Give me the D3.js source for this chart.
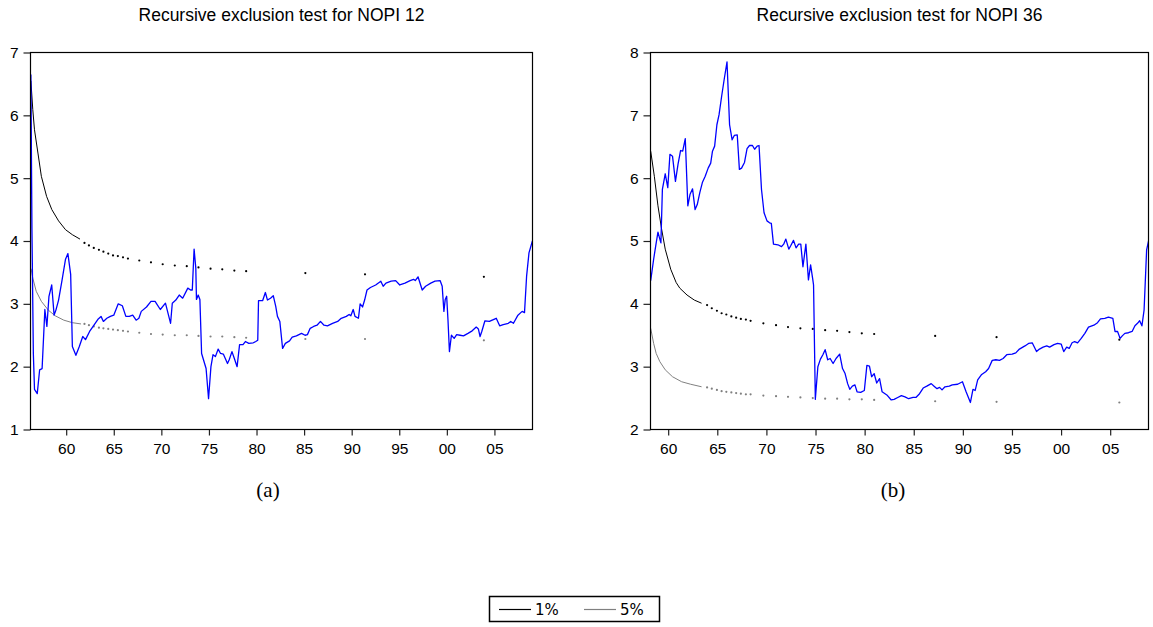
<!DOCTYPE html>
<html>
<head>
<meta charset="utf-8">
<script src="https://cdn.jsdelivr.net/npm/d3@7"></script>
<style>
  body { margin: 0; background: #fff; }
  svg { display: block; }
</style>
</head>
<body>
<svg id="fig" width="1153" height="627"></svg>
<script>
// ---- tick labels shared by both panels
const yearTicks = [1960, 1965, 1970, 1975, 1980, 1985, 1990, 1995, 2000, 2005];
const yearLabel = d => String(d % 100).padStart(2, "0");

// ---- NOPI 12: recursive exclusion statistic [year, value]
const nopi12 = [
  [1956.29,6.65],[1956.40,4.2],[1956.55,2.2],[1956.67,1.64],[1956.96,1.57],[1957.21,1.95],[1957.47,1.97],
  [1957.76,2.91],[1957.97,2.64],[1958.19,3.12],[1958.48,3.30],[1958.73,2.82],[1958.92,2.90],[1959.20,3.06],
  [1959.57,3.38],[1959.93,3.71],[1960.18,3.80],[1960.47,3.47],[1960.65,2.32],[1961.02,2.18],[1961.38,2.32],
  [1961.74,2.48],[1962.03,2.43],[1962.46,2.56],[1962.83,2.64],[1963.37,2.76],[1963.66,2.80],[1963.91,2.72],
  [1964.27,2.77],[1964.64,2.80],[1965.00,2.82],[1965.47,3.00],[1965.90,2.97],[1966.27,2.80],[1966.63,2.80],
  [1966.99,2.82],[1967.35,2.74],[1967.64,2.77],[1967.89,2.88],[1968.44,2.95],[1968.91,3.04],[1969.34,3.04],
  [1969.89,2.91],[1970.43,3.01],[1970.97,2.69],[1971.15,3.01],[1971.52,3.06],[1971.88,3.14],[1972.24,3.09],
  [1972.78,3.25],[1973.07,3.22],[1973.25,3.22],[1973.44,3.87],[1973.62,3.57],[1973.69,3.07],[1973.87,3.14],
  [1974.05,3.07],[1974.23,2.21],[1974.70,1.97],[1974.96,1.49],[1975.21,2.00],[1975.43,2.19],[1975.68,2.16],
  [1975.97,2.28],[1976.22,2.21],[1976.51,2.20],[1976.95,2.05],[1977.13,2.11],[1977.42,2.24],[1977.67,2.13],
  [1977.96,2.00],[1978.22,2.35],[1978.58,2.35],[1978.83,2.40],[1979.19,2.37],[1979.66,2.38],[1979.92,2.40],
  [1980.13,2.42],[1980.21,3.05],[1980.64,3.05],[1980.93,3.18],[1981.15,3.06],[1981.47,3.09],[1981.76,3.13],
  [1982.02,2.96],[1982.20,2.80],[1982.45,2.72],[1982.74,2.29],[1983.03,2.37],[1983.47,2.41],[1983.75,2.47],
  [1984.19,2.49],[1984.73,2.53],[1985.10,2.50],[1985.35,2.51],[1985.64,2.61],[1986.00,2.64],[1986.36,2.66],
  [1986.72,2.72],[1987.09,2.66],[1987.45,2.65],[1987.99,2.69],[1988.53,2.72],[1988.90,2.77],[1989.44,2.80],
  [1989.73,2.83],[1989.91,2.81],[1990.16,2.91],[1990.35,2.80],[1990.71,2.77],[1990.89,3.00],[1991.14,2.95],
  [1991.36,3.06],[1991.61,3.22],[1991.97,3.26],[1992.52,3.30],[1993.06,3.36],[1993.31,3.28],[1993.60,3.33],
  [1994.15,3.36],[1994.62,3.37],[1995.05,3.30],[1995.60,3.33],[1996.14,3.37],[1996.50,3.39],[1996.68,3.37],
  [1996.97,3.43],[1997.41,3.22],[1997.77,3.28],[1998.31,3.33],[1998.75,3.36],[1999.29,3.37],[1999.51,3.28],
  [1999.69,2.88],[1999.83,3.07],[1999.98,3.12],[2000.12,2.74],[2000.27,2.24],[2000.48,2.50],[2000.77,2.45],
  [2001.03,2.51],[2001.39,2.50],[2001.75,2.49],[2002.22,2.53],[2002.66,2.57],[2003.09,2.63],[2003.31,2.60],
  [2003.49,2.48],[2003.67,2.56],[2004.00,2.73],[2004.47,2.72],[2005.19,2.77],[2005.55,2.65],[2005.92,2.67],
  [2006.46,2.69],[2006.71,2.72],[2007.00,2.69],[2007.47,2.82],[2007.91,2.88],[2008.16,2.86],[2008.38,3.44],
  [2008.63,3.81],[2008.99,4.00]
];
// critical values: continuous part, then isolated points
const crit1Line12 = [[1956.29,6.55],[1956.49,6.09],[1956.67,5.77],[1957.03,5.40],[1957.39,5.03],[1957.94,4.71],
  [1958.49,4.50],[1959.20,4.32],[1959.93,4.18],[1960.65,4.10],[1961.45,4.03]];
const crit5Line12 = [[1956.31,3.56],[1956.49,3.41],[1956.85,3.20],[1957.39,3.04],[1958.12,2.90],[1958.84,2.81],
  [1959.75,2.74],[1960.65,2.70],[1961.56,2.68]];
const dotYears12 = [1961.92,1962.39,1962.90,1963.44,1963.91,1964.42,1964.92,1965.43,1965.97,1966.49,1967.68,
  1968.91,1970.14,1971.41,1972.67,1973.90,1975.17,1976.40,1977.67,1978.91,1985.13,1991.40,2003.89];
const crit1Dots12 = [3.97,3.93,3.89,3.86,3.83,3.80,3.77,3.76,3.74,3.72,3.69,3.66,3.63,3.61,3.60,3.58,3.56,3.55,
  3.53,3.52,3.49,3.47,3.43];
const crit5Dots12 = [2.68,2.66,2.64,2.62,2.61,2.60,2.59,2.58,2.57,2.56,2.54,2.52,2.51,2.50,2.50,2.49,2.48,2.48,
  2.47,2.46,2.44,2.44,2.42];

// ---- NOPI 36
const nopi36 = [
  [1958.22,4.37],[1958.52,4.71],[1958.78,4.97],[1958.96,5.14],[1959.15,5.03],[1959.26,4.97],[1959.41,5.82],
  [1959.70,6.07],[1959.96,5.85],[1960.18,6.38],[1960.44,6.35],[1960.74,5.95],[1961.00,6.22],[1961.26,6.44],
  [1961.48,6.43],[1961.74,6.63],[1962.00,5.56],[1962.22,5.74],[1962.48,5.83],[1962.74,5.50],[1962.96,5.58],
  [1963.22,5.77],[1963.48,5.93],[1963.77,6.03],[1964.07,6.16],[1964.33,6.24],[1964.51,6.43],[1964.73,6.51],
  [1964.96,6.85],[1965.18,7.01],[1965.44,7.30],[1965.70,7.57],[1965.99,7.85],[1966.25,6.85],[1966.51,6.61],
  [1966.73,6.68],[1967.03,6.69],[1967.25,6.14],[1967.47,6.16],[1967.77,6.25],[1968.03,6.47],[1968.28,6.52],
  [1968.58,6.52],[1968.80,6.46],[1969.06,6.51],[1969.25,6.52],[1969.50,5.82],[1969.76,5.45],[1970.06,5.32],
  [1970.32,5.29],[1970.50,5.28],[1970.72,4.95],[1971.17,4.94],[1971.54,4.91],[1971.76,4.95],[1971.98,5.03],
  [1972.28,4.87],[1972.46,4.92],[1972.76,5.01],[1973.02,4.89],[1973.28,4.95],[1973.50,4.95],[1973.72,4.59],
  [1974.02,4.95],[1974.28,4.38],[1974.50,4.62],[1974.72,4.39],[1974.80,4.30],[1974.98,2.48],[1975.24,3.00],
  [1975.50,3.12],[1975.75,3.19],[1975.98,3.27],[1976.24,3.11],[1976.49,3.13],[1976.79,3.05],[1977.09,3.13],
  [1977.46,3.20],[1977.75,2.97],[1978.01,2.89],[1978.27,2.73],[1978.49,2.64],[1978.75,2.69],[1979.01,2.71],
  [1979.23,2.60],[1979.60,2.59],[1979.97,2.62],[1980.23,3.02],[1980.49,3.01],[1980.71,2.84],[1980.97,2.89],
  [1981.23,2.74],[1981.52,2.81],[1981.78,2.60],[1982.26,2.55],[1982.71,2.47],[1983.00,2.48],[1983.37,2.51],
  [1983.74,2.54],[1984.11,2.52],[1984.48,2.49],[1984.93,2.51],[1985.22,2.51],[1985.59,2.57],[1985.96,2.66],
  [1986.33,2.69],[1986.78,2.73],[1987.07,2.69],[1987.37,2.65],[1987.63,2.67],[1987.88,2.63],[1988.18,2.68],
  [1988.62,2.69],[1988.92,2.71],[1989.47,2.72],[1989.96,2.76],[1990.33,2.60],[1990.77,2.43],[1991.03,2.64],
  [1991.25,2.62],[1991.51,2.79],[1991.88,2.87],[1992.32,2.92],[1992.62,2.97],[1992.99,3.10],[1993.36,3.11],
  [1993.73,3.10],[1994.10,3.13],[1994.47,3.19],[1995.02,3.20],[1995.39,3.22],[1995.76,3.28],[1996.32,3.33],
  [1996.69,3.37],[1997.06,3.38],[1997.50,3.24],[1997.80,3.28],[1998.17,3.31],[1998.54,3.33],[1998.83,3.31],
  [1999.28,3.35],[1999.65,3.37],[2000.01,3.36],[2000.27,3.24],[2000.57,3.31],[2000.83,3.29],[2001.12,3.38],
  [2001.38,3.40],[2001.68,3.38],[2002.05,3.45],[2002.42,3.53],[2002.79,3.63],[2003.34,3.66],[2003.71,3.70],
  [2004.01,3.76],[2004.45,3.77],[2004.82,3.79],[2005.27,3.77],[2005.49,3.56],[2005.75,3.56],[2006.01,3.45],
  [2006.23,3.49],[2006.49,3.53],[2006.86,3.54],[2007.23,3.56],[2007.52,3.65],[2007.78,3.69],[2008.00,3.73],
  [2008.23,3.65],[2008.45,3.90],[2008.71,4.86],[2009.00,5.07]
];
const crit1Line36 = [[1958.22,6.43],[1958.59,6.03],[1958.96,5.56],[1959.33,5.19],[1959.70,4.87],[1960.26,4.55],
  [1960.81,4.34],[1961.18,4.25],[1961.92,4.14],[1962.66,4.06],[1963.40,4.01]];
const crit5Line36 = [[1958.22,3.61],[1958.52,3.37],[1958.78,3.21],[1959.15,3.08],[1959.70,2.95],[1960.44,2.84],
  [1961.37,2.76],[1962.29,2.72],[1963.40,2.68]];
const dotYears36 = [1963.96,1964.44,1964.96,1965.44,1965.92,1966.43,1966.92,1967.40,1967.91,1968.39,1969.69,
  1970.98,1972.20,1973.46,1974.72,1975.98,1977.20,1978.45,1979.71,1980.97,1987.18,1993.43,2005.93];
const crit1Dots36 = [3.98,3.93,3.89,3.85,3.83,3.80,3.78,3.76,3.75,3.73,3.69,3.66,3.63,3.61,3.60,3.58,3.57,3.55,
  3.53,3.52,3.49,3.47,3.43];
const crit5Dots36 = [2.67,2.65,2.63,2.61,2.60,2.59,2.58,2.57,2.56,2.56,2.54,2.53,2.52,2.51,2.50,2.49,2.49,2.48,
  2.48,2.47,2.45,2.44,2.43];

const legendKeys = ["1%", "5%"];

const BLUE = "#0000ff", BLACK = "#000", GREY = "#808080";
const FONT = "Arial, 'Liberation Sans', sans-serif";

const svg = d3.select("#fig");

const panels = [
  { id: "p12", title: "Recursive exclusion test for NOPI 12", tag: "(a)", tagX: 268,
    left: 30.5, right: 532.5, xDomain: [1956.25, 2009.0], yDomain: [1, 7],
    stat: nopi12, c1: crit1Line12, c5: crit5Line12, dotYears: dotYears12, d1: crit1Dots12, d5: crit5Dots12 },
  { id: "p36", title: "Recursive exclusion test for NOPI 36", tag: "(b)", tagX: 893,
    left: 650.5, right: 1148.5, xDomain: [1958.2, 2008.9], yDomain: [2, 8],
    stat: nopi36, c1: crit1Line36, c5: crit5Line36, dotYears: dotYears36, d1: crit1Dots36, d5: crit5Dots36 }
];

const plotTop = 52.5, plotBottom = 429.5;

panels.forEach(p => {
  const x = d3.scaleLinear().domain(p.xDomain).range([p.left, p.right]);
  const y = d3.scaleLinear().domain(p.yDomain).range([plotBottom, plotTop]);
  const g = svg.append("g").attr("class", p.id);

  g.append("clipPath").attr("id", `clip-${p.id}`)
    .append("rect")
    .attr("x", p.left).attr("y", plotTop)
    .attr("width", p.right - p.left).attr("height", plotBottom - plotTop);

  // title
  g.append("text")
    .attr("x", (p.left + p.right) / 2).attr("y", 20.5)
    .attr("text-anchor", "middle")
    .style("font-family", FONT).style("font-size", "17.5px")
    .text(p.title);

  // axes
  const gx = g.append("g")
    .attr("transform", `translate(0,${plotBottom})`)
    .call(d3.axisBottom(x).tickValues(yearTicks).tickSize(6).tickPadding(7).tickFormat(yearLabel));
  gx.select(".domain").remove();

  const gy = g.append("g")
    .attr("transform", `translate(${p.left},0)`)
    .call(d3.axisLeft(y).ticks(6).tickSize(7).tickPadding(5).tickFormat(d3.format("d")));
  gy.select(".domain").remove();

  [gx, gy].forEach(a => {
    a.attr("font-family", FONT).attr("font-size", 15.5);
    a.selectAll("line").attr("stroke", "#222").attr("stroke-width", 1.2);
    a.selectAll("text").attr("fill", "#000");
  });

  const plot = g.append("g").attr("clip-path", `url(#clip-${p.id})`);
  const line = d3.line().x(d => x(d[0])).y(d => y(d[1]));

  plot.append("path").datum(p.c5)
    .attr("fill", "none").attr("stroke", GREY).attr("stroke-width", 1).attr("d", line);
  plot.append("path").datum(p.c1)
    .attr("fill", "none").attr("stroke", BLACK).attr("stroke-width", 1).attr("d", line);

  plot.selectAll("circle.d5").data(p.dotYears.map((t, i) => [t, p.d5[i]]))
    .join("circle").attr("class", "d5")
    .attr("cx", d => x(d[0])).attr("cy", d => y(d[1])).attr("r", 1.1).attr("fill", GREY);
  plot.selectAll("circle.d1").data(p.dotYears.map((t, i) => [t, p.d1[i]]))
    .join("circle").attr("class", "d1")
    .attr("cx", d => x(d[0])).attr("cy", d => y(d[1])).attr("r", 1.1).attr("fill", BLACK);

  plot.append("path").datum(p.stat)
    .attr("fill", "none").attr("stroke", BLUE).attr("stroke-width", 1.3)
    .attr("stroke-linejoin", "round").attr("d", line);

  // frame
  g.append("rect")
    .attr("x", p.left).attr("y", plotTop)
    .attr("width", p.right - p.left).attr("height", plotBottom - plotTop)
    .attr("fill", "none").attr("stroke", "#000").attr("stroke-width", 1.2);

  // panel tag
  g.append("text")
    .attr("x", p.tagX).attr("y", 497)
    .attr("text-anchor", "middle")
    .style("font-family", "'Times New Roman', 'Liberation Serif', serif").style("font-size", "21px")
    .text(p.tag);
});

// legend
const legend = svg.append("g").attr("class", "legend");
legend.append("rect")
  .attr("x", 489.5).attr("y", 596.5).attr("width", 170).attr("height", 25)
  .attr("fill", "#fff").attr("stroke", "#000").attr("stroke-width", 1.5);
const lx = d3.scaleOrdinal().domain(legendKeys).range([499, 584]);
const lc = d3.scaleOrdinal().domain(legendKeys).range([BLACK, GREY]);
const item = legend.selectAll("g.item").data(legendKeys).join("g")
  .attr("class", "item")
  .attr("transform", d => `translate(${lx(d)},609.5)`);
item.append("line").attr("x1", 0).attr("x2", 32).attr("y1", 0).attr("y2", 0)
  .attr("stroke", d => lc(d)).attr("stroke-width", 1.2);
item.append("text").attr("x", 36).attr("y", 5.5)
  .style("font-family", "'DejaVu Sans', sans-serif").style("font-size", "15px")
  .text(d => d);
</script>
</body>
</html>
